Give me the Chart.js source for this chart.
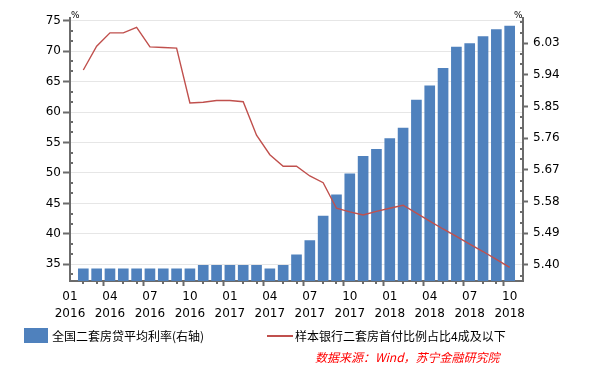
<!DOCTYPE html>
<html>
<head>
<meta charset="utf-8">
<script src="https://cdn.jsdelivr.net/npm/chart.js@4"></script>
<style>
  body { margin: 0; background: #fff; }
  #wrap { position: relative; width: 589px; height: 368px; font-family: "Noto Sans CJK SC", "DejaVu Sans", sans-serif; }
  #wrap canvas { position: absolute; left: 0; top: 0; }
  .t { position: absolute; white-space: nowrap; line-height: 16px; font-size: 12px; color: #000; }
  .pct { position: absolute; font-family: "DejaVu Sans", sans-serif; font-size: 9px; line-height: 9px; color: #000; }
</style>
</head>
<body>
<div id="wrap">
  <canvas id="myChart" width="589" height="368"></canvas>
  <span class="pct" style="left:71px;top:11px">%</span>
  <span class="pct" style="left:514px;top:11px">%</span>
  <div style="position:absolute;left:24px;top:328px;width:24px;height:15px;background:#4F81BD"></div>
  <span class="t" style="left:52px;top:328px">全国二套房贷平均利率(右轴)</span>
  <div style="position:absolute;left:267px;top:335px;width:26px;height:2px;background:#C0504D"></div>
  <span class="t" style="left:295px;top:328px">样本银行二套房首付比例占比4成及以下</span>
  <span class="t" style="left:315px;top:349px;color:#ff0000;font-style:italic">数据来源：Wind，苏宁金融研究院</span>
</div>
<script>
'use strict';

// month slots, Jan 2016 and Nov 2018 are empty edges of the date axis
var months = ['2016-01', '2016-02', '2016-03', '2016-04', '2016-05', '2016-06', '2016-07', '2016-08', '2016-09', '2016-10', '2016-11', '2016-12',
              '2017-01', '2017-02', '2017-03', '2017-04', '2017-05', '2017-06', '2017-07', '2017-08', '2017-09', '2017-10', '2017-11', '2017-12',
              '2018-01', '2018-02', '2018-03', '2018-04', '2018-05', '2018-06', '2018-07', '2018-08', '2018-09', '2018-10', '2018-11'];
// 全国二套房贷平均利率 (right axis)
var rateValues = [null, 5.39, 5.39, 5.39, 5.39, 5.39, 5.39, 5.39, 5.39, 5.39, 5.40, 5.40,
                  5.40, 5.40, 5.40, 5.39, 5.40, 5.43, 5.47, 5.54, 5.60, 5.66, 5.71, 5.73,
                  5.76, 5.79, 5.87, 5.91, 5.96, 6.02, 6.03, 6.05, 6.07, 6.08, null];
// 样本银行二套房首付比例占比4成及以下 (left axis)
var shareValues = [null, 66.9, 70.8, 73.0, 73.0, 73.9, 70.7, 70.6, 70.5, 61.5, 61.6, 61.9,
                   61.9, 61.7, 56.2, 53.0, 51.1, 51.1, 49.5, 48.4, 44.2, 43.6, 43.1, 43.7,
                   44.2, 44.7, 43.4, 42.1, 40.8, 39.6, 38.3, 37.1, 35.8, 34.5, null];
var leftTicks = [35, 40, 45, 50, 55, 60, 65, 70, 75];
var rightTicks = [5.40, 5.49, 5.58, 5.67, 5.76, 5.85, 5.94, 6.03];
var majorMonths = ['01', '04', '07', '10'];

const AXIS_COLOR = '#6b6b6b';

Chart.defaults.font.family = 'DejaVu Sans';
Chart.defaults.font.size = 12;
Chart.defaults.color = '#000';

function isMajor(i) {
  var m = months[i];
  if (!m || i === months.length - 1) return false;
  return majorMonths.indexOf(m.slice(5)) >= 0;
}

// small ticks between the labelled ones
var minorTicks = {
  id: 'minorTicks',
  afterDraw: function (chart) {
    var ctx = chart.ctx;
    var area = chart.chartArea;
    var y = chart.scales.y, y1 = chart.scales.y1, x = chart.scales.x;
    ctx.save();
    ctx.strokeStyle = AXIS_COLOR;
    ctx.lineWidth = 2;
    ctx.beginPath();
    for (var v = 35 - 5 / 3; v < 75; v += 5 / 3) {
      if (Math.abs(v / 5 - Math.round(v / 5)) < 0.01) continue;
      var py = Math.round(y.getPixelForValue(v));
      ctx.moveTo(area.left, py);
      ctx.lineTo(area.left + 3, py);
    }
    for (var r = 5.37; r < 6.1; r += 0.03) {
      var k = Math.round((r - 5.40) / 0.03);
      if (k % 3 === 0) continue;
      var ry = Math.round(y1.getPixelForValue(r));
      ctx.moveTo(area.right - 3, ry);
      ctx.lineTo(area.right, ry);
    }
    for (var i = 1; i < months.length - 1; i++) {
      if (isMajor(i)) continue;
      var px = Math.round(x.getPixelForValue(i));
      ctx.moveTo(px, area.bottom);
      ctx.lineTo(px, area.bottom + 3);
    }
    ctx.stroke();
    ctx.restore();
  }
};

var ctx = document.getElementById('myChart').getContext('2d');
var chart = new Chart(ctx, {
  type: 'bar',
  data: {
    labels: months,
    datasets: [
      {
        type: 'line',
        label: '样本银行二套房首付比例占比4成及以下',
        data: shareValues,
        yAxisID: 'y',
        borderColor: '#C0504D',
        borderWidth: 1.4,
        pointRadius: 0,
        tension: 0,
        spanGaps: false
      },
      {
        type: 'bar',
        label: '全国二套房贷平均利率(右轴)',
        data: rateValues,
        yAxisID: 'y1',
        backgroundColor: '#4F81BD',
        barPercentage: 0.8,
        categoryPercentage: 1.0
      }
    ]
  },
  options: {
    responsive: false,
    animation: false,
    devicePixelRatio: 1,
    layout: { padding: { top: 18, bottom: 42, left: 0, right: 0 } },
    plugins: {
      legend: { display: false },
      tooltip: { enabled: false }
    },
    scales: {
      x: {
        offset: false,
        grid: {
          drawOnChartArea: false,
          tickLength: 5,
          tickWidth: 2,
          tickColor: function (c) { return isMajor(c.index) ? AXIS_COLOR : 'rgba(0,0,0,0)'; }
        },
        border: { display: true, color: AXIS_COLOR, width: 2 },
        ticks: {
          autoSkip: false,
          maxRotation: 0,
          padding: 3,
          font: { size: 12, lineHeight: 1.37 },
          callback: function (value, index) {
            if (!isMajor(index)) return '';
            var m = months[index];
            return [m.slice(5), m.slice(0, 4)];
          }
        },
        afterFit: function (scale) { scale.height = 45; }
      },
      y: {
        position: 'left',
        min: 32.26,
        max: 75.44,
        afterBuildTicks: function (scale) {
          scale.ticks = leftTicks.map(function (v) { return { value: v }; });
        },
        grid: {
          color: '#e6e6e6',
          lineWidth: 1,
          tickColor: AXIS_COLOR,
          tickLength: 7,
          tickWidth: 2
        },
        border: { display: true, color: AXIS_COLOR, width: 2 },
        ticks: { padding: 2, font: { size: 12 } },
        afterFit: function (scale) { scale.width = 70; }
      },
      y1: {
        position: 'right',
        min: 5.3545,
        max: 6.102,
        afterBuildTicks: function (scale) {
          scale.ticks = rightTicks.map(function (v) { return { value: v }; });
        },
        grid: {
          drawOnChartArea: false,
          tickColor: AXIS_COLOR,
          tickLength: 5,
          tickWidth: 2
        },
        border: { display: true, color: AXIS_COLOR, width: 2 },
        ticks: {
          padding: 5,
          font: { size: 12 },
          callback: function (value) { return Number(value).toFixed(2); }
        },
        afterFit: function (scale) { scale.width = 66; }
      }
    }
  },
  plugins: [minorTicks]
});
</script>
</body>
</html>
